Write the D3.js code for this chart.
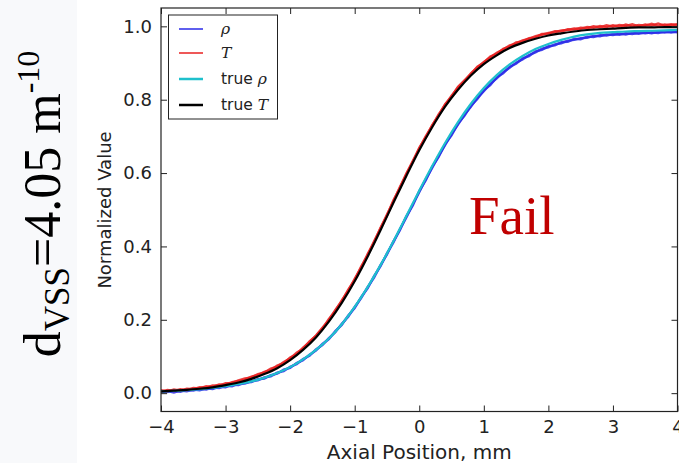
<!DOCTYPE html>
<html><head><meta charset="utf-8">
<script src="https://cdn.jsdelivr.net/npm/d3@7"></script>
<style>body{margin:0;background:#fff}svg{display:block}</style>
</head><body>
<svg id="c" width="679" height="463"></svg>
<script>
// ---------- data ----------
const xTicks = [-4,-3,-2,-1,0,1,2,3,4];
const yTicks = [0.0,0.2,0.4,0.6,0.8,1.0];
const xFine = d3.range(0,81).map(i => -4 + i*0.1);      // measured sample positions
const xCoarse = d3.range(0,41).map(i => -4 + i*0.2);    // true-profile sample positions

const trueT = [0.005,0.007,0.009,0.012,0.016,0.022,0.029,0.039,0.052,0.068,0.090,0.118,0.152,0.195,0.246,0.305,0.372,0.444,0.519,0.592,0.662,0.725,0.781,0.827,0.866,0.897,0.921,0.941,0.955,0.966,0.975,0.981,0.986,0.990,0.992,0.994,0.996,0.997,0.997,0.998,0.998];
const trueRho = [0.005,0.006,0.008,0.011,0.014,0.019,0.025,0.032,0.042,0.055,0.071,0.092,0.118,0.149,0.188,0.235,0.289,0.349,0.414,0.483,0.552,0.619,0.682,0.739,0.789,0.832,0.867,0.896,0.919,0.938,0.952,0.963,0.972,0.978,0.982,0.984,0.986,0.987,0.988,0.989,0.990];

const T1 = [0.004,0.009,0.006,0.011,0.008,0.014,0.013,0.019,0.017,0.024,0.023,0.030,0.033,0.037,0.045,0.049,0.058,0.063,0.075,0.082,0.097,0.106,0.124,0.139,0.157,0.178,0.199,0.227,0.251,0.282,0.309,0.345,0.376,0.414,0.449,0.487,0.523,0.562,0.597,0.633,0.667,0.700,0.729,0.760,0.786,0.811,0.833,0.851,0.872,0.888,0.903,0.915,0.928,0.937,0.948,0.953,0.962,0.966,0.973,0.977,0.982,0.984,0.989,0.990,0.994,0.993,0.998,0.996,1.001,0.998,1.003,0.999,1.005,1.000,1.004,1.002,1.007,1.001,1.005,1.003,1.006];
const T2 = [0.008,0.005,0.010,0.007,0.012,0.011,0.016,0.015,0.021,0.020,0.027,0.028,0.035,0.040,0.043,0.052,0.056,0.067,0.072,0.085,0.094,0.110,0.121,0.141,0.156,0.176,0.202,0.224,0.253,0.279,0.312,0.342,0.379,0.411,0.451,0.484,0.526,0.559,0.599,0.631,0.669,0.697,0.731,0.757,0.788,0.808,0.835,0.853,0.870,0.890,0.901,0.918,0.925,0.939,0.945,0.956,0.959,0.968,0.970,0.979,0.980,0.987,0.986,0.992,0.991,0.996,0.995,1.000,0.997,1.003,0.999,1.004,1.001,1.006,1.000,1.005,1.002,1.008,1.002,1.006,1.003];
const R1 = [0.003,0.006,0.002,0.007,0.005,0.010,0.008,0.013,0.011,0.017,0.016,0.023,0.022,0.029,0.030,0.038,0.040,0.049,0.053,0.064,0.069,0.082,0.090,0.105,0.116,0.134,0.147,0.169,0.186,0.212,0.232,0.262,0.286,0.319,0.346,0.381,0.411,0.447,0.479,0.515,0.548,0.583,0.614,0.647,0.676,0.706,0.732,0.759,0.781,0.805,0.823,0.843,0.858,0.875,0.887,0.901,0.910,0.922,0.929,0.939,0.943,0.951,0.954,0.961,0.963,0.968,0.969,0.974,0.973,0.978,0.976,0.980,0.978,0.982,0.980,0.984,0.981,0.985,0.983,0.986,0.984];
const R2 = [0.006,0.003,0.007,0.004,0.009,0.007,0.012,0.010,0.015,0.014,0.020,0.019,0.026,0.026,0.033,0.035,0.043,0.046,0.056,0.060,0.072,0.079,0.093,0.102,0.119,0.131,0.150,0.166,0.189,0.208,0.235,0.259,0.289,0.315,0.349,0.378,0.414,0.444,0.482,0.512,0.551,0.580,0.617,0.644,0.679,0.703,0.735,0.756,0.784,0.802,0.826,0.840,0.861,0.872,0.890,0.898,0.913,0.919,0.932,0.936,0.946,0.948,0.957,0.958,0.966,0.965,0.972,0.971,0.976,0.975,0.979,0.977,0.981,0.979,0.983,0.981,0.984,0.982,0.986,0.983,0.986];

const legendLabels = ["ρ","T","true ρ","true T"];

// ---------- chart ----------
const svg = d3.select("#c");
const L=161, R=677.5, TOP=8, BOT=411.5;
const x = d3.scaleLinear().domain([-4,4]).range([L,R]);
const y = d3.scaleLinear().domain([-0.05,1.05]).range([BOT,TOP]);

svg.append("rect").attr("x",0).attr("y",0).attr("width",77).attr("height",463).attr("fill","#f8f9fb");

svg.append("defs").append("clipPath").attr("id","clip")
  .append("rect").attr("x",L).attr("y",TOP).attr("width",R-L).attr("height",BOT-TOP);

const g = svg.append("g").attr("clip-path","url(#clip)");
const lineF = xs => d3.line().x((d,i)=>x(xs[i])).y(d=>y(d)).curve(d3.curveLinear);
const lineS = xs => d3.line().x((d,i)=>x(xs[i])).y(d=>y(d)).curve(d3.curveMonotoneX);

const blue="#2a2ae8", red="#e82020", cyan="#1fc0cc";
[R1,R2].forEach(s=>g.append("path").attr("d",lineF(xFine)(s)).attr("fill","none").attr("stroke",blue).attr("stroke-width",2.4).attr("stroke-opacity",0.85));
[T1,T2].forEach(s=>g.append("path").attr("d",lineF(xFine)(s)).attr("fill","none").attr("stroke",red).attr("stroke-width",2.4).attr("stroke-opacity",0.85));
g.append("path").attr("d",lineS(xCoarse)(trueRho)).attr("fill","none").attr("stroke",cyan).attr("stroke-width",2.2);
g.append("path").attr("d",lineS(xCoarse)(trueT)).attr("fill","none").attr("stroke","#000").attr("stroke-width",2.2);

// axes (inward ticks on all four sides)
const font = "DejaVu Sans";
const fmtX = d => d<0 ? "\u2212"+Math.abs(d) : String(d);
const ax = svg.append("g").attr("transform",`translate(0,${BOT})`)
  .call(d3.axisBottom(x).tickValues(xTicks).tickFormat(fmtX).tickSizeInner(-6).tickSizeOuter(0).tickPadding(9));
const axT = svg.append("g").attr("transform",`translate(0,${TOP})`)
  .call(d3.axisTop(x).tickValues(xTicks).tickFormat("").tickSizeInner(-6).tickSizeOuter(0));
const ay = svg.append("g").attr("transform",`translate(${L},0)`)
  .call(d3.axisLeft(y).tickValues(yTicks).tickFormat(d3.format(".1f")).tickSizeInner(-6).tickSizeOuter(0).tickPadding(9));
const ayR = svg.append("g").attr("transform",`translate(${R},0)`)
  .call(d3.axisRight(y).tickValues(yTicks).tickFormat("").tickSizeInner(-6).tickSizeOuter(0));
[ax,axT,ay,ayR].forEach(a=>{a.select(".domain").remove(); a.selectAll("line").attr("stroke","#222");});
[ax,ay].forEach(a=>a.selectAll("text").attr("font-family",font).attr("font-size",18).attr("fill","#222"));

svg.append("rect").attr("x",L).attr("y",TOP).attr("width",R-L).attr("height",BOT-TOP)
  .attr("fill","none").attr("stroke","#222").attr("stroke-width",1.2);

svg.append("text").attr("x",(L+R)/2).attr("y",459).attr("text-anchor","middle")
  .attr("font-family",font).attr("font-size",20).attr("fill","#222").text("Axial Position, mm");
svg.append("text").attr("transform","translate(111,210) rotate(-90)").attr("text-anchor","middle")
  .attr("font-family",font).attr("font-size",18).attr("fill","#222").text("Normalized Value");

// legend
const lg = svg.append("g");
lg.append("rect").attr("x",168.5).attr("y",15).attr("width",109).attr("height",104)
  .attr("fill","#fff").attr("stroke","#222").attr("stroke-width",1);
const lc=[blue,red,cyan,"#000"], lw=[1.5,1.5,2.5,2.5], ly=[29,53,79,105];
legendLabels.forEach((t,i)=>{
  lg.append("line").attr("x1",179).attr("x2",203).attr("y1",ly[i]).attr("y2",ly[i]).attr("stroke",lc[i]).attr("stroke-width",lw[i]);
  const tx = lg.append("text").attr("x",221).attr("y",ly[i]+5).attr("font-size",15.5).attr("fill","#222");
  const parts = t.split(" ");
  if(parts.length===2){
    tx.append("tspan").attr("font-family",font).text(parts[0]+" ");
    tx.append("tspan").attr("font-family","DejaVu Serif").attr("font-style","italic").text(parts[1]);
  } else {
    tx.append("tspan").attr("font-family","DejaVu Serif").attr("font-style","italic").text(t);
  }
});

// annotations
svg.append("text").attr("x",469).attr("y",234).attr("font-family","Liberation Serif").attr("font-size",55).attr("fill","#c00000").text("Fail");
const side = svg.append("text").attr("transform","translate(60,204) rotate(-90)").attr("text-anchor","middle")
  .attr("font-family","Liberation Serif").attr("font-size",52).attr("fill","#000");
side.append("tspan").text("d");
side.append("tspan").attr("font-size",35).attr("dy",9).text("VSS");
side.append("tspan").attr("dy",-9).text("=4.05 m");
side.append("tspan").attr("font-size",32).attr("dy",-21).text("-10");
</script>
</body></html>
